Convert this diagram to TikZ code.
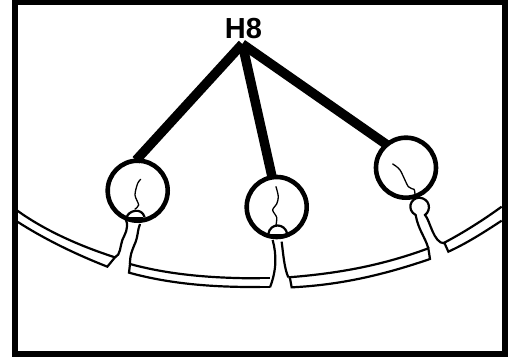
\documentclass[tikz,border=0pt]{standalone}
\usepackage{fontspec}
\setmainfont{Liberation Sans}
\begin{document}
\begin{tikzpicture}[x=1pt,y=-1pt,
  head/.style={circle,draw=black,fill=white,line width=4.6pt,inner sep=0pt,minimum size=60pt},
  spoke/.style={line width=9.5pt,draw=black,shorten >=-2.5pt},
  wall/.style={line width=2.2pt,draw=black,line join=miter},
  thin/.style={line width=1.3pt,draw=black,line cap=round}]
\useasboundingbox (0,0) rectangle (509,358);
\fill[white] (0,0) rectangle (509,358);
\node[draw=black,line width=6.4pt,minimum width=490pt,minimum height=351.7pt,inner sep=0pt] (frame) at (260,177.85) {};
\node[font=\fontsize{29}{29}\selectfont\bfseries] (lab) at (243.5,28.5) {H8};
\coordinate (apex) at (242.3,44);
\node[head] (c1) at (137.7,190.7) {};
\node[head] (c2) at (276.7,207) {};
\node[head] (c3) at (406,167.7) {};
\draw[spoke] (apex) -- (c1.90);
\draw[spoke] (apex) -- (c2.99);
\draw[spoke] (apex) -- (c3.131);
% left part in 3x crop coordinates
\begin{scope}[shift={(0pt,-140pt)},x=0.33333pt,y=-0.33333pt]
\draw[wall] (52,212) .. controls (130,268) and (230,315) .. (345,352)
  -- (322,380) .. controls (220,340) and (130,295) .. (52,245);
\draw[wall] (345,352) .. controls (362,345) and (360,320) .. (367,300) .. controls (373,285) and (388,265) .. (378,240);
\draw[wall] (420,252) .. controls (412,270) and (415,290) .. (403,315) .. controls (395,335) and (390,345) .. (390,372);
\draw[wall] (780,415) .. controls (640,415) and (510,405) .. (390,372) -- (387,398) .. controls (510,432) and (640,442) .. (780,441);
\draw[wall] (380,232) .. controls (385,212) and (425,200) .. (434,232);
\draw[line width=2pt] (384,234) -- (428,234);
\draw[thin] plot[smooth] coordinates {(422,118) (413,130) (405,165) (416,195) (405,207)};
\end{scope}
% right part in 3x crop coordinates
\begin{scope}[shift={(250pt,-130pt)},x=0.33333pt,y=-0.33333pt]
\draw[wall] (0,445) -- (60,445);
\draw[wall] (0,472) -- (60,472);
\draw[wall] (68,330) .. controls (80,375) and (80,420) .. (60,472);
\draw[wall] (95,335) .. controls (100,375) and (103,415) .. (115,442);
\draw[wall] (115,442) .. controls (270,430) and (400,405) .. (535,355) -- (540,387) .. controls (400,435) and (270,465) .. (125,472) -- (120,445);
\draw[wall] (55,312) .. controls (60,278) and (105,278) .. (112,312);
\draw[line width=2pt] (58,314) -- (108,314);
\draw[thin] plot[smooth] coordinates {(78,170) (85,200) (80,222) (68,240) (80,262) (78,285)};
% third spine
\draw[wall] (535,355) .. controls (525,320) and (505,300) .. (497,255)
  .. controls (470,240) and (480,205) .. (507,203)
  .. controls (540,205) and (545,240) .. (525,255)
  .. controls (540,270) and (550,340) .. (583,340);
\draw[wall] (755,230) .. controls (700,270) and (640,308) .. (583,338) -- (595,365) .. controls (650,340) and (700,308) .. (755,272);
\draw[thin] plot[smooth] coordinates {(428,102) (450,120) (475,170) (492,178) (495,195)};
\end{scope}
\end{tikzpicture}
\end{document}
